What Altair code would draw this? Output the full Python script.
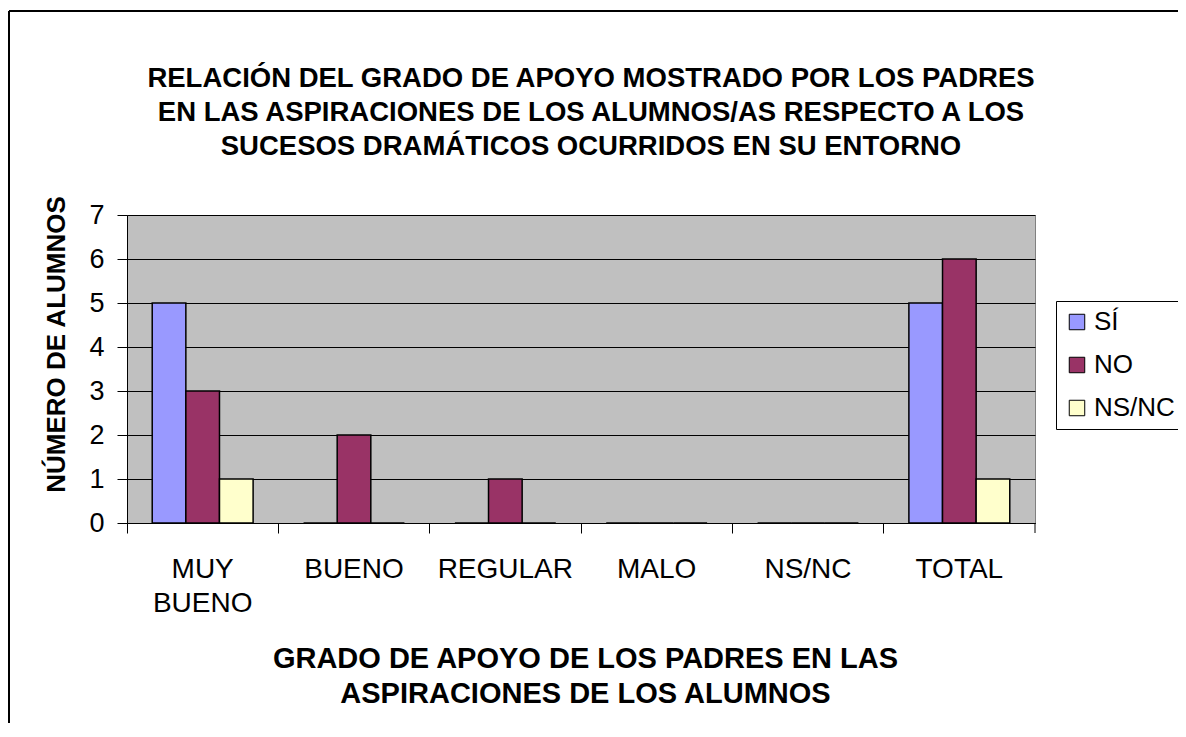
import altair as alt
import pandas as pd

categories = ["MUY BUENO", "BUENO", "REGULAR", "MALO", "NS/NC", "TOTAL"]
series = ["SÍ", "NO", "NS/NC"]
si_values = [5, 0, 0, 0, 0, 5]
no_values = [3, 2, 1, 0, 0, 6]
nsnc_values = [1, 0, 0, 0, 0, 1]
colors = ["#9999FF", "#993366", "#FFFFCC"]

rows = []
for i, c in enumerate(categories):
    for s, vals in zip(series, [si_values, no_values, nsnc_values]):
        rows.append({"grado": c, "serie": s, "valor": vals[i]})
df = pd.DataFrame(rows)

W, H = 908, 308
PAD_L, PAD_T, PAD_R, PAD_B = 119, 207, 143, 200
FONT = "Liberation Sans"

bars = alt.Chart(df).mark_bar(stroke="black", strokeWidth=1.5, clip=False).encode(
    x=alt.X("grado:N", sort=categories,
            scale=alt.Scale(paddingInner=0, paddingOuter=0),
            axis=alt.Axis(
                title=["GRADO DE APOYO DE LOS PADRES EN LAS", "ASPIRACIONES DE LOS ALUMNOS"],
                labelAngle=0, bandPosition=0,
                labelExpr="datum.label == 'MUY BUENO' ? ['MUY', 'BUENO'] : datum.label",
                labelFontSize=28, labelFont=FONT, labelColor="black",
                labelLineHeight=34, labelPadding=22, labelBaseline="top",
                tickSize=10, tickColor="black", domainColor="black",
                titleFontSize=29, titleFont=FONT, titleFontWeight="bold", titleColor="black",
                titleLineHeight=35, titleX=458, titleY=121, titleBaseline="top",
                titleAlign="center", grid=False)),
    xOffset=alt.XOffset("serie:N", sort=series,
                        scale=alt.Scale(paddingInner=0, paddingOuter=0.75)),
    y=alt.Y("valor:Q", scale=alt.Scale(domain=[0, 7], nice=False),
            axis=alt.Axis(title="NÚMERO DE ALUMNOS", values=[0, 1, 2, 3, 4, 5, 6, 7],
                          format="d", labelOverlap=False,
                          labelFontSize=27, labelFont=FONT, labelColor="black",
                          labelPadding=13, tickSize=10, tickColor="black",
                          domainColor="black", gridColor="black", gridOpacity=1,
                          titleFontSize=26, titleFont=FONT, titleFontWeight="bold",
                          titleColor="black", titleX=-71, titleY=129,
                          titleAngle=270, titleAlign="center", titleBaseline="middle")),
    color=alt.Color("serie:N", sort=series,
                    scale=alt.Scale(domain=series, range=colors),
                    legend=alt.Legend(title=None, orient="none", legendX=929, legendY=86,
                                      strokeColor="black", fillColor="white",
                                      padding=8, rowPadding=17, symbolType="square",
                                      symbolSize=240, symbolStrokeColor="black",
                                      symbolStrokeWidth=1, symbolOpacity=1,
                                      labelFontSize=26, labelFont=FONT, labelColor="black",
                                      labelOffset=4)),
)

border_left = alt.Chart(alt.Data(values=[{}])).mark_rule(
    color="black", strokeWidth=2, clip=False
).encode(x=alt.value(-118), y=alt.value(-204), y2=alt.value(H + PAD_B))

border_top = alt.Chart(alt.Data(values=[{}])).mark_rule(
    color="black", strokeWidth=2, clip=False
).encode(x=alt.value(-118), x2=alt.value(W + PAD_R), y=alt.value(-204))

end_tick = alt.Chart(alt.Data(values=[{}])).mark_rule(
    color="black", strokeWidth=1, clip=False
).encode(x=alt.value(W), y=alt.value(H), y2=alt.value(H + 10))

chart = alt.layer(bars, border_left, border_top, end_tick).properties(
    width=W, height=H,
    title=alt.TitleParams(
        text=["RELACIÓN DEL GRADO DE APOYO MOSTRADO POR LOS PADRES",
              "EN LAS ASPIRACIONES DE LOS ALUMNOS/AS RESPECTO A LOS",
              "SUCESOS DRAMÁTICOS OCURRIDOS EN SU ENTORNO"],
        fontSize=27.5, font=FONT, fontWeight="bold", color="black",
        lineHeight=34, anchor="middle", frame="group", dx=10, offset=0, dy=150),
    autosize=alt.AutoSizeParams(type="none"),
    padding={"left": PAD_L, "top": PAD_T, "right": PAD_R, "bottom": PAD_B},
    background="white",
).configure_view(fill="#C0C0C0", stroke="#808080", strokeWidth=1)

chart.save("out.html", embed_options={"renderer": "svg", "actions": False})
